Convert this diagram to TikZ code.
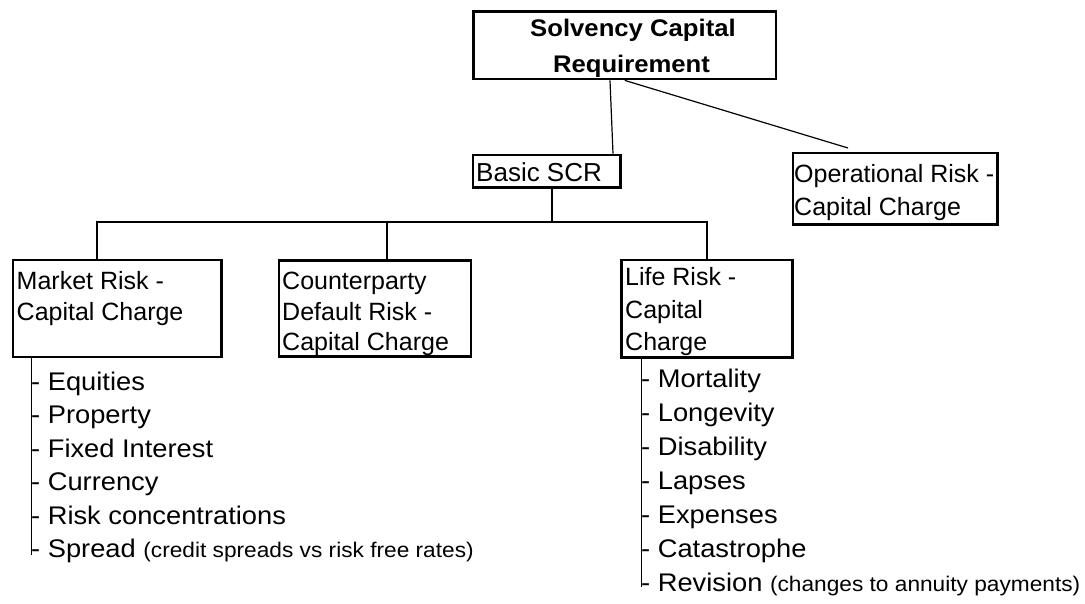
\documentclass[tikz,border=0pt]{standalone}
\usepackage{fontspec}
\setmainfont{Liberation Sans}
\newfontfamily\widefont[FakeStretch=1.07]{Liberation Sans}
\newcommand\smalltxt{\fontsize{21.2}{25}\selectfont}
\begin{document}
\begin{tikzpicture}[x=1pt,y=-1pt,
  box/.style={draw,line width=2.8pt,inner sep=0pt},
  conn/.style={line width=1.2pt},
  txt/.style={inner sep=0pt,anchor=base west,font=\fontsize{25}{30}\selectfont},
  ttl/.style={inner sep=0pt,anchor=base,font=\widefont\bfseries\fontsize{24}{36}\selectfont},
  itm/.style={inner sep=0pt,anchor=base west,font=\widefont\fontsize{25.5}{30}\selectfont}
  ]
\fill[white] (0,0) rectangle (1085,604);
\useasboundingbox (0,0) rectangle (1085,604);

% boxes
\node[box,minimum width=302.5pt,minimum height=67.5pt] (scr) at (624.75,45.25) {};
\node[box,minimum width=147.5pt,minimum height=32.5pt] (basic) at (546.75,171.25) {};
\node[box,minimum width=204.5pt,minimum height=71.5pt] (op) at (895.25,188.75) {};
\node[box,minimum width=208.5pt,minimum height=97pt] (mr) at (117.25,308.5) {};
\node[box,minimum width=192pt,minimum height=96pt] (cp) at (375,308.5) {};
\node[box,minimum width=171pt,minimum height=97.8pt] (life) at (707,308.9) {};

% box texts
\node[ttl] (scr1) at (633,37) {Solvency Capital};
\node[ttl] (scr2) at (631.5,73) {Requirement};
\node[txt,font=\fontsize{26}{30}\selectfont] (basic1) at (476,182) {Basic SCR};
\node[txt] (op1) at (794,183) {Operational Risk -};
\node[txt] (op2) at (794,216) {Capital Charge};
\node[txt] (mr1) at (16.5,290) {Market Risk -};
\node[txt] (mr2) at (16.5,320) {Capital Charge};
\node[txt] (cp1) at (282,290) {Counterparty};
\node[txt] (cp2) at (282,320) {Default Risk -};
\node[txt] (cp3) at (282,350) {Capital Charge};
\node[txt] (life1) at (625,286) {Life Risk -};
\node[txt] (life2) at (625,318) {Capital};
\node[txt] (life3) at (625,350) {Charge};

% connectors
\coordinate (opend) at (848,148);
\coordinate (bus) at (707,222);
\draw[conn] ([xshift=-14.75pt]scr.south) -- ([xshift=66.25pt]basic.north);
\draw[conn] (scr.south) -- (opend);
\draw[conn] ([xshift=5.25pt]basic.south) -- ([xshift=5.25pt]basic.south |- bus);
\draw[conn] ([xshift=-20.25pt]mr.north) |- (bus) -- (life.north);
\draw[conn] ([xshift=12pt]cp.north) -- ([xshift=12pt]cp.north |- bus);

% list lines
\draw[conn] ([xshift=20.1pt]mr.south west) -- ++(0,197);
\draw[conn] ([xshift=21.6pt]life.south west) -- ++(0,228);

% market risk items
\node[itm] (m1) at (31,390) {- Equities};
\node[itm] (m2) at (31,423.5) {- Property};
\node[itm] (m3) at (31,457) {- Fixed Interest};
\node[itm] (m4) at (31,490.5) {- Currency};
\node[itm] (m5) at (31,524) {- Risk concentrations};
\node[itm] (m6) at (31,557.5) {- Spread {\smalltxt (credit spreads vs risk free rates)}};

% life risk items
\node[itm] (l1) at (641,387) {- Mortality};
\node[itm] (l2) at (641,421) {- Longevity};
\node[itm] (l3) at (641,455) {- Disability};
\node[itm] (l4) at (641,489) {- Lapses};
\node[itm] (l5) at (641,523) {- Expenses};
\node[itm] (l6) at (641,557) {- Catastrophe};
\node[itm] (l7) at (641,591) {- Revision {\smalltxt (changes to annuity payments)}};
\end{tikzpicture}
\end{document}
